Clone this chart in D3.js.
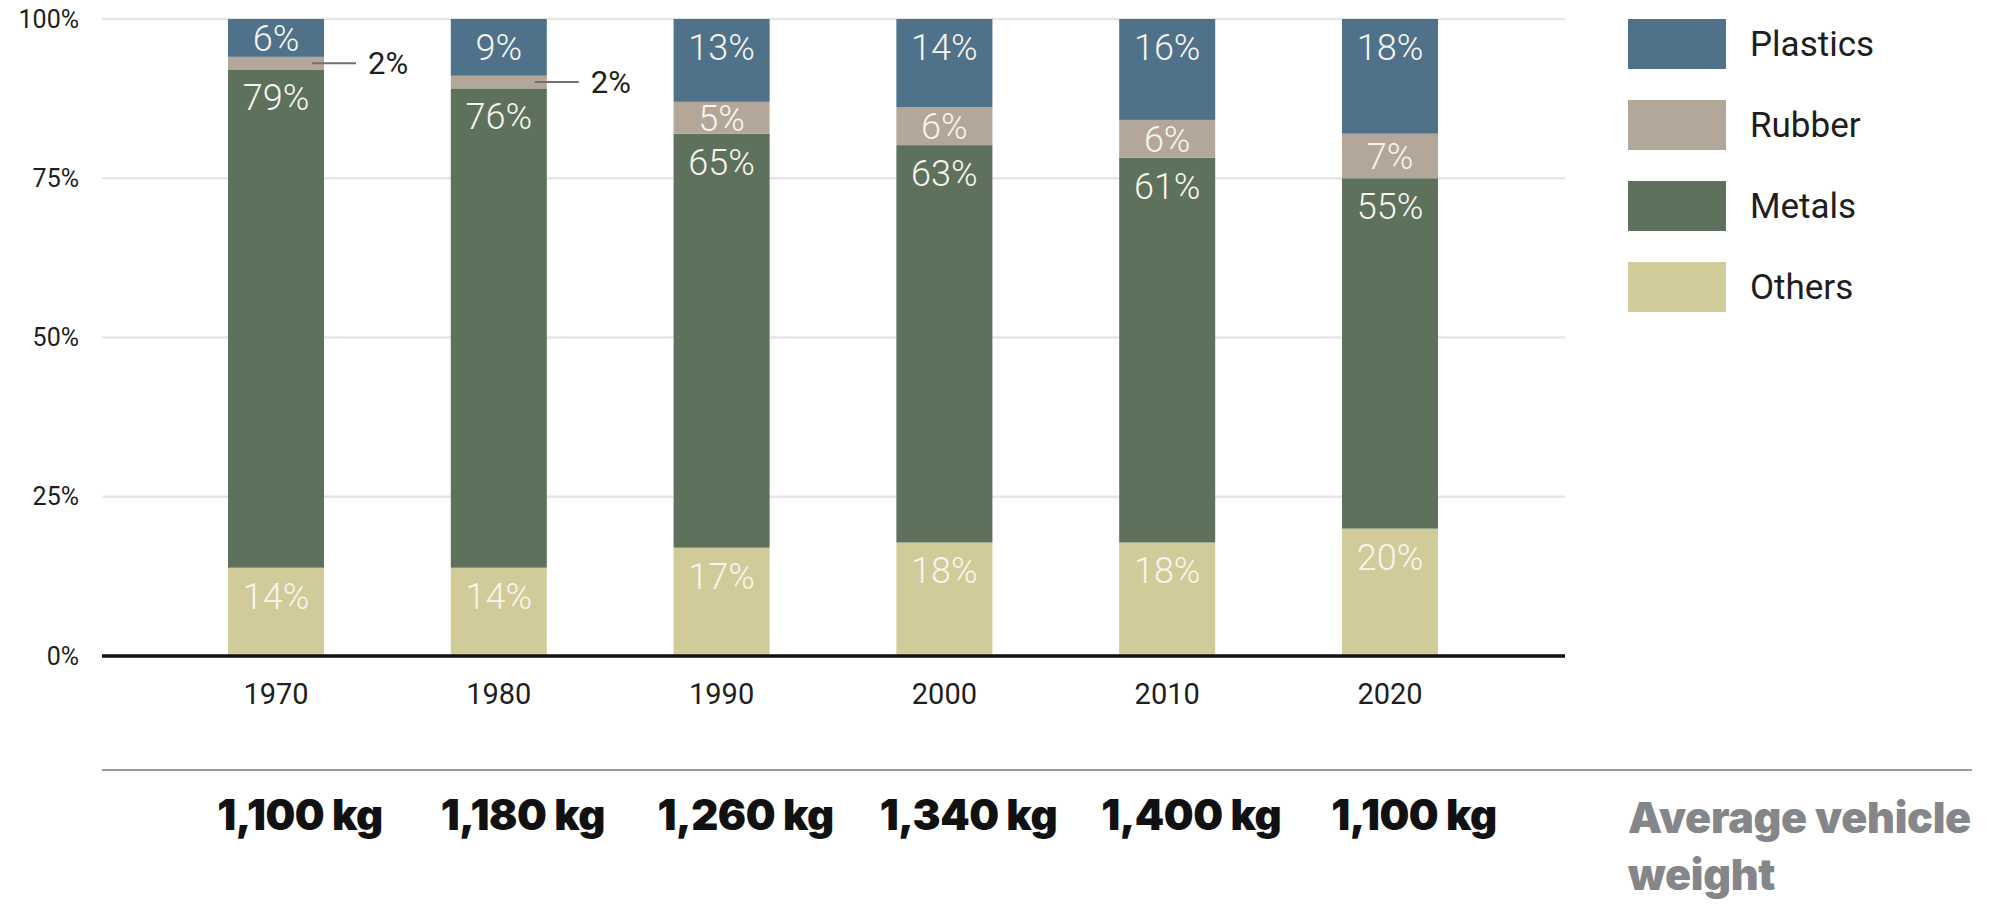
<!DOCTYPE html>
<html>
<head>
<meta charset="utf-8">
<script src="https://cdn.jsdelivr.net/npm/d3@7"></script>
<style>
  html, body { margin: 0; padding: 0; background: #fff; }
  svg { display: block; }
</style>
</head>
<body>
<div id="chart"></div>
<script>
// ---------------- data ----------------
var years = ['1970', '1980', '1990', '2000', '2010', '2020'];
var others = [14, 14, 17, 18, 18, 20];
var metals = [79, 76, 65, 63, 61, 55];
var rubber = [2, 2, 5, 6, 6, 7];
var plastics = [6, 9, 13, 14, 16, 18];
var weights = ['1,100 kg', '1,180 kg', '1,260 kg', '1,340 kg', '1,400 kg', '1,100 kg'];
var seriesNames = ['Others', 'Metals', 'Rubber', 'Plastics'];
var legendOrder = ['Plastics', 'Rubber', 'Metals', 'Others'];
var yTicks = [0, 0.25, 0.5, 0.75, 1];
var weightTitle = ['Average vehicle', 'weight'];

// ---------------- settings ----------------
var attrs = {
  width: 1995,
  height: 904,
  plotLeft: 102,
  plotRight: 1565,
  plotTop: 19,
  plotBottom: 656,
  barsLeft: 228,
  barsRight: 1438,
  font: 'Roboto, "Liberation Sans", sans-serif',
  boldFont: 'Inter, Roboto, sans-serif',
  textColor: '#1e1e1e',
  colors: {
    Plastics: '#4f7189',
    Rubber: '#b2a798',
    Metals: '#5e715d',
    Others: '#d0cb98'
  }
};

var table = years.map(function (y, i) {
  return { year: y, Others: others[i], Metals: metals[i], Rubber: rubber[i], Plastics: plastics[i], weight: weights[i] };
});

var svg = d3.select('#chart').append('svg')
  .attr('width', attrs.width)
  .attr('height', attrs.height);

var x = d3.scaleBand()
  .domain(years)
  .range([attrs.barsLeft, attrs.barsRight])
  .paddingInner(0.569)
  .paddingOuter(0);

var y = d3.scaleLinear()
  .domain([0, 1])
  .range([attrs.plotBottom, attrs.plotTop]);

// rows don't always add to 100, so normalise like the original
var stacked = d3.stack()
  .keys(seriesNames)
  .offset(d3.stackOffsetExpand)(table);

// ---------------- grid + y axis ----------------
var grid = svg.append('g').attr('class', 'grid');
grid.selectAll('line')
  .data(yTicks.filter(function (t) { return t > 0; }))
  .join('line')
  .attr('x1', attrs.plotLeft)
  .attr('x2', attrs.plotRight)
  .attr('y1', d => y(d))
  .attr('y2', d => y(d))
  .attr('stroke', '#e6e6e6')
  .attr('stroke-width', 2.5);

var yAxis = svg.append('g')
  .attr('transform', 'translate(' + attrs.plotLeft + ',0)')
  .call(d3.axisLeft(y).tickValues(yTicks).tickFormat(d3.format('.0%')).tickSize(0).tickPadding(23));
yAxis.select('.domain').remove();
yAxis.selectAll('text')
  .attr('font-family', attrs.font)
  .attr('font-size', 25)
  .attr('fill', attrs.textColor);

// ---------------- bars ----------------
var layers = svg.append('g').attr('class', 'bars')
  .selectAll('g')
  .data(stacked)
  .join('g')
  .attr('fill', d => attrs.colors[d.key]);

layers.selectAll('rect')
  .data(d => d.map(function (s) { s.key = d.key; return s; }))
  .join('rect')
  .attr('x', d => x(d.data.year))
  .attr('width', x.bandwidth())
  .attr('y', d => y(d[1]))
  .attr('height', d => y(d[0]) - y(d[1]));

// value labels: inside when there is room, pulled out with a leader line otherwise
var labels = svg.append('g').attr('class', 'labels');
stacked.forEach(function (layer) {
  layer.forEach(function (s) {
    var top = y(s[1]);
    var bottom = y(s[0]);
    var mid = (top + bottom) / 2;
    var cx = x(s.data.year) + x.bandwidth() / 2;
    var val = s.data[layer.key];
    if (bottom - top > 25) {
      labels.append('text')
        .attr('x', cx)
        .attr('y', Math.min(top + 41, mid + 13))
        .attr('text-anchor', 'middle')
        .attr('font-family', attrs.font)
        .attr('font-weight', 300)
        .attr('font-size', 36)
        .attr('fill', '#f7f5ee')
        .text(val + '%');
    } else {
      var right = x(s.data.year) + x.bandwidth();
      labels.append('line')
        .attr('x1', right - 12)
        .attr('x2', right + 32)
        .attr('y1', mid)
        .attr('y2', mid)
        .attr('stroke', '#707070')
        .attr('stroke-width', 2);
      labels.append('text')
        .attr('x', right + 44)
        .attr('y', mid + 11)
        .attr('font-family', attrs.font)
        .attr('font-size', 31)
        .attr('fill', attrs.textColor)
        .text(val + '%');
    }
  });
});

// ---------------- x axis ----------------
svg.append('line')
  .attr('x1', attrs.plotLeft)
  .attr('x2', attrs.plotRight)
  .attr('y1', attrs.plotBottom)
  .attr('y2', attrs.plotBottom)
  .attr('stroke', '#111')
  .attr('stroke-width', 3.5);

var xAxis = svg.append('g')
  .attr('transform', 'translate(0,' + attrs.plotBottom + ')')
  .call(d3.axisBottom(x).tickSize(0).tickPadding(27));
xAxis.select('.domain').remove();
xAxis.selectAll('text')
  .attr('font-family', attrs.font)
  .attr('font-size', 29)
  .attr('fill', attrs.textColor);

// ---------------- weight row ----------------
svg.append('line')
  .attr('x1', attrs.plotLeft)
  .attr('x2', 1972)
  .attr('y1', 770)
  .attr('y2', 770)
  .attr('stroke', '#9a9a9a')
  .attr('stroke-width', 2);

svg.append('g').attr('class', 'weights')
  .selectAll('text')
  .data(table)
  .join('text')
  .attr('x', d => x(d.year) + x.bandwidth() / 2 + 24)
  .attr('y', 830)
  .attr('text-anchor', 'middle')
  .attr('font-family', attrs.boldFont)
  .attr('font-weight', 900)
  .attr('font-size', 42)
  .attr('letter-spacing', -0.5)
  .attr('fill', '#111')
  .text(d => d.weight);

svg.append('g').attr('class', 'weight-title')
  .selectAll('text')
  .data(weightTitle)
  .join('text')
  .attr('x', 1628)
  .attr('y', (d, i) => 833 + i * 57)
  .attr('font-family', attrs.boldFont)
  .attr('font-weight', 900)
  .attr('font-size', 43)
  .attr('letter-spacing', -0.3)
  .attr('fill', '#85868a')
  .text(d => d);

// ---------------- legend ----------------
var legendItem = svg.append('g').attr('class', 'legend')
  .attr('transform', 'translate(1628,19)')
  .selectAll('g')
  .data(legendOrder)
  .join('g')
  .attr('transform', (d, i) => 'translate(0,' + (i * 81) + ')');

legendItem.append('rect')
  .attr('width', 98)
  .attr('height', 50)
  .attr('fill', d => attrs.colors[d]);

legendItem.append('text')
  .attr('x', 122)
  .attr('y', 25)
  .attr('dy', '0.35em')
  .attr('font-family', attrs.font)
  .attr('font-size', 35)
  .attr('fill', attrs.textColor)
  .text(d => d);
</script>
</body>
</html>
